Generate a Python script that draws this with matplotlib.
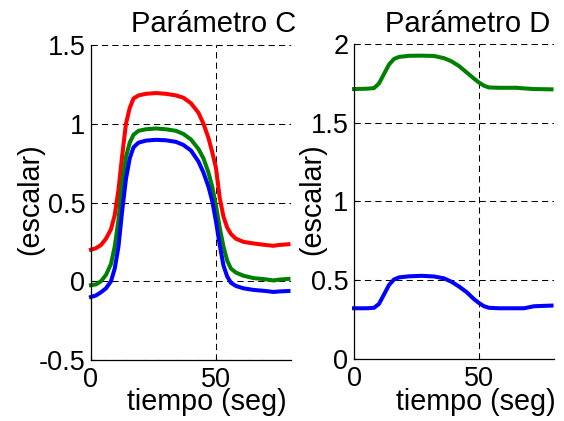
from __future__ import annotations

import matplotlib

matplotlib.use("Agg")
import matplotlib.pyplot as plt

plt.rcParams["font.family"] = ["Liberation Sans", "DejaVu Sans"]

# Parámetro C: three responses sampled along the run (seconds)
C_TIME = [0, 2, 4, 6, 8, 9.5, 11, 12.5, 14, 15.5, 17, 19, 22, 26, 30, 34, 37, 40, 43, 45,
          47, 48.5, 50, 51.5, 53, 54.5, 56, 58, 61, 65, 70, 73, 75, 79]
C_RED = [0.20, 0.21, 0.23, 0.27, 0.33, 0.42, 0.58, 0.80, 1.00, 1.10, 1.16, 1.18, 1.19, 1.195,
         1.19, 1.18, 1.165, 1.13, 1.07, 1.00, 0.91, 0.82, 0.72, 0.53, 0.41, 0.34, 0.30, 0.27,
         0.25, 0.24, 0.23, 0.225, 0.23, 0.235]
C_GREEN = [-0.025, -0.02, 0.0, 0.04, 0.11, 0.22, 0.39, 0.62, 0.79, 0.88, 0.93, 0.955, 0.965,
           0.97, 0.965, 0.955, 0.935, 0.90, 0.84, 0.78, 0.69, 0.60, 0.48, 0.34, 0.22, 0.13,
           0.08, 0.055, 0.035, 0.02, 0.012, 0.005, 0.01, 0.015]
C_BLUE = [-0.10, -0.09, -0.07, -0.045, 0.0, 0.08, 0.22, 0.45, 0.65, 0.78, 0.85, 0.88, 0.893,
          0.898, 0.895, 0.885, 0.865, 0.83, 0.76, 0.69, 0.60, 0.51, 0.38, 0.23, 0.10, 0.03,
          -0.01, -0.03, -0.045, -0.055, -0.062, -0.068, -0.065, -0.062]

# Parámetro D: two responses
D_TIME = [0, 5, 8, 10, 12, 14, 16, 18, 22, 27, 32, 36, 39, 42, 45, 48, 50, 52, 54, 58, 65,
          68, 72, 79]
D_GREEN = [1.714, 1.716, 1.72, 1.75, 1.81, 1.87, 1.905, 1.918, 1.925, 1.926, 1.924, 1.91,
           1.89, 1.86, 1.82, 1.78, 1.755, 1.735, 1.724, 1.722, 1.722, 1.718, 1.714, 1.712]
D_BLUE = [0.322, 0.322, 0.325, 0.35, 0.41, 0.47, 0.505, 0.518, 0.525, 0.528, 0.524, 0.512,
          0.49, 0.46, 0.425, 0.38, 0.355, 0.335, 0.325, 0.322, 0.322, 0.322, 0.335, 0.339]

C_YTICKS = [-0.5, 0, 0.5, 1, 1.5]
C_YLABELS = ["-0.5", "0", "0.5", "1", "1.5"]
D_YTICKS = [0, 0.5, 1, 1.5, 2]
D_YLABELS = ["0", "0.5", "1", "1.5", "2"]
XTICKS = [0, 50]

RED = "#ff0000"
GREEN = "#008000"
BLUE = "#0000ff"


def style_axes(ax, yticks, ylabels, ylim) -> None:
    ax.set_xlim(0, 80)
    ax.set_ylim(*ylim)
    ax.set_xticks(XTICKS)
    ax.set_xticklabels([str(t) for t in XTICKS])
    ax.set_yticks(yticks)
    ax.set_yticklabels(ylabels)
    ax.spines["top"].set_visible(False)
    ax.spines["right"].set_visible(False)
    for side in ("left", "bottom"):
        ax.spines[side].set_linewidth(0.9)
    ax.tick_params(direction="in", length=3, width=0.8, labelsize=19.5)
    ax.tick_params(axis="y", pad=4)
    ax.tick_params(axis="x", pad=5)
    ax.grid(True, color="black", linewidth=0.75, linestyle=(0, (6, 4)))
    ax.set_axisbelow(True)


def main() -> int:
    fig = plt.figure(figsize=(5.64, 4.21), dpi=100)
    ax_c = fig.add_axes([0.1613, 0.1449, 0.3546, 0.7482])
    ax_d = fig.add_axes([0.6277, 0.1473, 0.3546, 0.7482])

    for ys, color in ((C_RED, RED), (C_GREEN, GREEN), (C_BLUE, BLUE)):
        ax_c.plot(C_TIME, ys, color=color, linewidth=2.9, solid_joinstyle="round", clip_on=False)
    for ys, color in ((D_GREEN, GREEN), (D_BLUE, BLUE)):
        ax_d.plot(D_TIME, ys, color=color, linewidth=2.9, solid_joinstyle="round", clip_on=False)

    style_axes(ax_c, C_YTICKS, C_YLABELS, (-0.5, 1.5))
    style_axes(ax_d, D_YTICKS, D_YLABELS, (0, 2))

    h = 421
    fig.text(296 / 564, 1 - 32 / h, "Parámetro C", fontsize=21, ha="right", va="baseline")
    fig.text(550 / 564, 1 - 32 / h, "Parámetro D", fontsize=21, ha="right", va="baseline")
    fig.text(287 / 564, 1 - 410 / h, "tiempo (seg)", fontsize=20.7, ha="right", va="baseline")
    fig.text(556 / 564, 1 - 410 / h, "tiempo (seg)", fontsize=20.7, ha="right", va="baseline")
    fig.text(30 / 564, 1 - 199 / h, "(escalar)", fontsize=20.7, rotation=90, ha="center", va="center")
    fig.text(312 / 564, 1 - 199 / h, "(escalar)", fontsize=20.7, rotation=90, ha="center", va="center")

    fig.savefig("out.png", dpi=100, facecolor="white")
    plt.close(fig)
    return 0


if __name__ == "__main__":
    raise SystemExit(main())
